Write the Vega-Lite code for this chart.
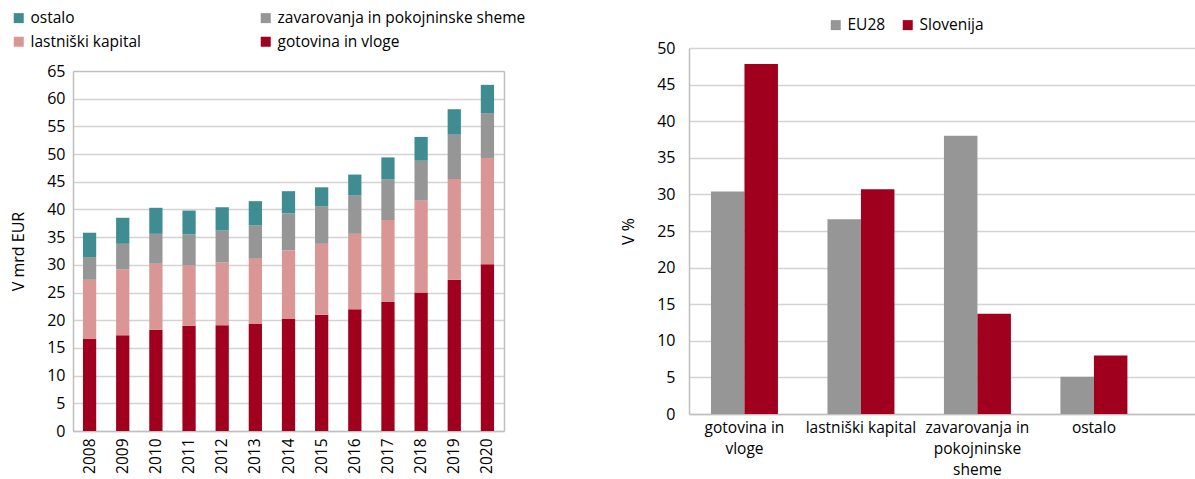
{
  "$schema": "https://vega.github.io/schema/vega-lite/v6.json",
  "padding": {"left": 10, "top": 10, "right": 0, "bottom": 0},
  "config": {
    "font": "Open Sans",
    "view": {"stroke": null},
    "axis": {"labelFont": "Open Sans", "labelFontSize": 16, "labelColor": "#000000", "titleFont": "Open Sans", "titleFontSize": 16, "titleFontWeight": "normal", "titleColor": "#000000", "ticks": false, "gridColor": "#D3D3D3", "gridWidth": 1.3, "domainColor": "#BFBFBF", "domainWidth": 1.5},
    "legend": {"labelFont": "Open Sans", "labelFontSize": 15.5, "labelColor": "#000000", "labelLimit": 0, "symbolType": "square", "symbolSize": 100, "symbolStrokeWidth": 0, "labelOffset": 4}
  },
  "datasets": {
    "wealth": [
      {"year": "2008", "gotovina in vloge": 16.6, "lastniški kapital": 10.7, "zavarovanja in pokojninske sheme": 4.1, "ostalo": 4.4},
      {"year": "2009", "gotovina in vloge": 17.3, "lastniški kapital": 11.9, "zavarovanja in pokojninske sheme": 4.6, "ostalo": 4.7},
      {"year": "2010", "gotovina in vloge": 18.3, "lastniški kapital": 11.9, "zavarovanja in pokojninske sheme": 5.4, "ostalo": 4.7},
      {"year": "2011", "gotovina in vloge": 19.0, "lastniški kapital": 10.9, "zavarovanja in pokojninske sheme": 5.6, "ostalo": 4.3},
      {"year": "2012", "gotovina in vloge": 19.1, "lastniški kapital": 11.3, "zavarovanja in pokojninske sheme": 5.8, "ostalo": 4.2},
      {"year": "2013", "gotovina in vloge": 19.3, "lastniški kapital": 11.8, "zavarovanja in pokojninske sheme": 6.0, "ostalo": 4.4},
      {"year": "2014", "gotovina in vloge": 20.2, "lastniški kapital": 12.4, "zavarovanja in pokojninske sheme": 6.7, "ostalo": 4.0},
      {"year": "2015", "gotovina in vloge": 21.0, "lastniški kapital": 12.8, "zavarovanja in pokojninske sheme": 6.8, "ostalo": 3.4},
      {"year": "2016", "gotovina in vloge": 22.0, "lastniški kapital": 13.6, "zavarovanja in pokojninske sheme": 6.9, "ostalo": 3.8},
      {"year": "2017", "gotovina in vloge": 23.3, "lastniški kapital": 14.8, "zavarovanja in pokojninske sheme": 7.3, "ostalo": 4.0},
      {"year": "2018", "gotovina in vloge": 25.0, "lastniški kapital": 16.6, "zavarovanja in pokojninske sheme": 7.2, "ostalo": 4.3},
      {"year": "2019", "gotovina in vloge": 27.3, "lastniški kapital": 18.2, "zavarovanja in pokojninske sheme": 8.0, "ostalo": 4.6},
      {"year": "2020", "gotovina in vloge": 30.1, "lastniški kapital": 19.2, "zavarovanja in pokojninske sheme": 8.1, "ostalo": 5.1}
    ],
    "share": [
      {"cat": "gotovina in vloge", "area": "EU28", "value": 30.4},
      {"cat": "gotovina in vloge", "area": "Slovenija", "value": 47.8},
      {"cat": "lastniški kapital", "area": "EU28", "value": 26.6},
      {"cat": "lastniški kapital", "area": "Slovenija", "value": 30.7},
      {"cat": "zavarovanja in pokojninske sheme", "area": "EU28", "value": 38.0},
      {"cat": "zavarovanja in pokojninske sheme", "area": "Slovenija", "value": 13.7},
      {"cat": "ostalo", "area": "EU28", "value": 5.1},
      {"cat": "ostalo", "area": "Slovenija", "value": 8.0}
    ]
  },
  "resolve": {"scale": {"color": "independent"}, "legend": {"color": "independent"}},
  "align": "none",
  "spacing": 94,
  "hconcat": [
    {
      "width": 431,
      "height": 383,
      "resolve": {"scale": {"y": "independent"}},
      "layer": [
        {
          "data": {"name": "wealth"},
          "transform": [
            {"fold": ["gotovina in vloge", "lastniški kapital", "zavarovanja in pokojninske sheme", "ostalo"], "as": ["cat", "value"]},
            {"calculate": "indexof(['gotovina in vloge','lastniški kapital','zavarovanja in pokojninske sheme','ostalo'], datum.cat)", "as": "stackOrder"}
          ],
          "mark": {"type": "bar"},
          "encoding": {
            "x": {"field": "year", "type": "ordinal", "scale": {"paddingInner": 0.6, "paddingOuter": 0.3},
                  "axis": {"title": null, "labelAngle": -90, "labelPadding": 7, "labelFontSize": 15.5, "domain": true, "grid": false}},
            "y": {"field": "value", "type": "quantitative", "stack": "zero", "scale": {"domain": [0, 65], "range": [383, 23], "nice": false},
                  "axis": {"title": "V mrd EUR", "values": [0, 5, 10, 15, 20, 25, 30, 35, 40, 45, 50, 55, 60, 65], "labelPadding": 8, "titlePadding": 20, "domain": true, "grid": true,
                           "gridColor": {"condition": {"test": "datum.value === 65", "value": "#BFBFBF"}, "value": "#D3D3D3"},
                           "gridWidth": {"condition": {"test": "datum.value === 65", "value": 1.5}, "value": 1.3}}},
            "color": {"field": "cat", "type": "nominal",
                      "scale": {"domain": ["ostalo", "zavarovanja in pokojninske sheme", "lastniški kapital", "gotovina in vloge"], "range": ["#3F8C93", "#969696", "#D99694", "#A0001E"]},
                      "legend": {"title": null, "orient": "none", "legendX": -62, "legendY": -38, "columns": 2, "columnPadding": 116, "rowPadding": 7, "direction": "horizontal", "padding": 0}},
            "order": {"field": "stackOrder", "type": "quantitative"}
          }
        },
        {
          "mark": {"type": "rule", "color": "#BFBFBF", "strokeWidth": 1.5},
          "encoding": {
            "y": {"datum": 0, "type": "quantitative", "scale": {"domain": [0, 65], "range": [383, 23], "nice": false},
                  "axis": {"orient": "right", "title": null, "labels": false, "ticks": false, "grid": false, "domain": true}}
          }
        }
      ]
    },
    {
      "width": 508,
      "height": 366,
      "data": {"name": "share"},
      "mark": {"type": "bar"},
      "encoding": {
        "x": {"field": "cat", "type": "nominal", "sort": ["gotovina in vloge", "lastniški kapital", "zavarovanja in pokojninske sheme", "ostalo"],
              "scale": {"paddingInner": 0.425, "paddingOuter": 0.393, "align": 0.24},
              "axis": {"title": null, "labelAngle": 0, "labelPadding": 6, "labelFontSize": 15.5, "labelLineHeight": 21, "labelBaseline": "top", "grid": false,
                       "labelExpr": "datum.value == 'gotovina in vloge' ? ['gotovina in', 'vloge'] : datum.value == 'zavarovanja in pokojninske sheme' ? ['zavarovanja in', 'pokojninske', 'sheme'] : datum.label"}},
        "xOffset": {"field": "area", "type": "nominal", "sort": ["EU28", "Slovenija"], "scale": {"paddingInner": 0, "paddingOuter": 0}},
        "y": {"field": "value", "type": "quantitative", "scale": {"domain": [0, 50], "nice": false},
              "axis": {"title": "V %", "values": [0, 5, 10, 15, 20, 25, 30, 35, 40, 45, 50], "labelPadding": 14, "titlePadding": 20, "grid": true}},
        "color": {"field": "area", "type": "nominal", "scale": {"domain": ["EU28", "Slovenija"], "range": ["#969696", "#A0001E"]},
                  "legend": {"title": null, "orient": "none", "legendX": 139, "legendY": -31, "direction": "horizontal", "padding": 0, "columnPadding": 14}}
      }
    }
  ]
}
